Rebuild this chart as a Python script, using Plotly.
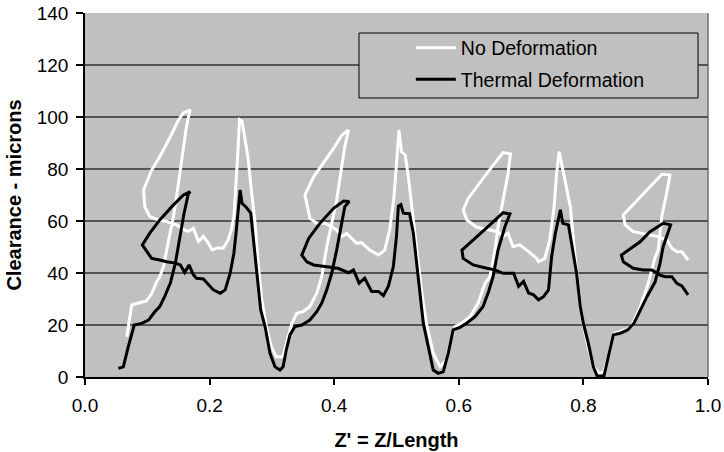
import plotly.graph_objects as go

# ---- data ----
no_def_x = [0.067, 0.075, 0.083, 0.098, 0.107, 0.115, 0.120, 0.126, 0.131, 0.137, 0.142, 0.147, 0.153, 0.158,
            0.162, 0.166, 0.169, 0.158, 0.150, 0.137, 0.120, 0.107, 0.094, 0.096, 0.104, 0.118, 0.131, 0.147,
            0.160, 0.166, 0.174, 0.182, 0.190, 0.198, 0.204, 0.212, 0.222, 0.230, 0.235, 0.239, 0.242, 0.245,
            0.248, 0.252, 0.257, 0.262, 0.267, 0.273, 0.278, 0.283, 0.291, 0.299, 0.307, 0.318, 0.326, 0.332,
            0.340, 0.350, 0.361, 0.372, 0.380, 0.388, 0.396, 0.404, 0.412, 0.417, 0.423, 0.412, 0.399, 0.383,
            0.367, 0.353, 0.356, 0.361, 0.372, 0.385, 0.396, 0.404, 0.412, 0.420, 0.428, 0.436, 0.444, 0.457,
            0.471, 0.481, 0.489, 0.496, 0.500, 0.504, 0.508, 0.514, 0.519, 0.524, 0.532, 0.540, 0.548, 0.559,
            0.570, 0.580, 0.586, 0.594, 0.604, 0.618, 0.631, 0.642, 0.650, 0.658, 0.663, 0.671, 0.679, 0.683,
            0.671, 0.645, 0.615, 0.607, 0.613, 0.629, 0.650, 0.663, 0.671, 0.679, 0.687, 0.698, 0.712, 0.725,
            0.728, 0.738, 0.746, 0.753, 0.757, 0.761, 0.766, 0.773, 0.779, 0.784, 0.790, 0.795, 0.800, 0.808,
            0.816, 0.825, 0.833, 0.840, 0.848, 0.860, 0.870, 0.877, 0.891, 0.904, 0.915, 0.920, 0.926, 0.933,
            0.939, 0.926, 0.896, 0.864, 0.867, 0.880, 0.907, 0.920, 0.934, 0.942, 0.950, 0.958, 0.968]
no_def_y = [15.5, 27.7, 28.3, 29.2, 32.0, 36.7, 38.6, 42.4, 48.8, 55.2, 61.7, 69.4, 79.6, 88.6,
            95.0, 100.0, 102.7, 101.6, 98.8, 92.4, 84.7, 79.6, 71.9, 65.5, 61.7, 60.4, 59.8, 58.5,
            56.5, 56.0, 57.2, 52.1, 54.1, 51.5, 48.9, 49.6, 49.6, 52.8, 56.7, 61.7, 72.0, 84.8,
            99.0, 98.4, 91.3, 83.6, 72.0, 59.2, 43.8, 31.0, 19.4, 11.7, 7.8, 7.8, 15.5, 20.6,
            24.5, 25.1, 27.1, 32.2, 38.6, 50.1, 59.1, 68.0, 80.9, 88.6, 95.0, 93.0, 87.9, 82.2,
            77.0, 70.0, 66.8, 61.0, 59.1, 59.1, 57.8, 56.5, 54.0, 55.2, 53.3, 51.4, 51.7, 48.8,
            46.9, 48.8, 56.5, 69.3, 82.1, 95.0, 86.6, 85.4, 77.0, 66.8, 51.4, 33.5, 20.6, 9.1,
            4.0, 6.6, 12.9, 19.4, 20.6, 23.2, 28.4, 36.0, 38.6, 48.8, 57.8, 68.0, 78.3, 85.8,
            86.3, 78.3, 68.7, 64.2, 60.4, 57.6, 56.5, 55.9, 54.0, 55.3, 50.1, 50.8, 48.2, 45.6,
            44.3, 45.6, 52.7, 65.5, 78.3, 86.7, 80.9, 73.2, 65.5, 52.7, 38.6, 27.1, 20.0, 11.0,
            4.0, 1.5, 2.0, 8.0, 16.5, 17.5, 18.5, 19.4, 26.9, 36.0, 46.0, 48.8, 62.0, 70.0,
            77.7, 78.0, 70.6, 62.3, 58.5, 55.9, 54.6, 54.0, 52.7, 49.5, 48.2, 48.2, 45.0]

thermal_x = [0.0535, 0.0615, 0.0695, 0.079, 0.091, 0.102, 0.112, 0.120, 0.128, 0.137, 0.145, 0.153, 0.159,
             0.166, 0.169, 0.158, 0.142, 0.120, 0.104, 0.092, 0.099, 0.107, 0.120, 0.131, 0.145, 0.153,
             0.160, 0.167, 0.174, 0.179, 0.190, 0.198, 0.206, 0.217, 0.225, 0.233, 0.239, 0.243, 0.246,
             0.249, 0.252, 0.258, 0.266, 0.270, 0.275, 0.282, 0.289, 0.297, 0.305, 0.313, 0.318, 0.323,
             0.329, 0.337, 0.348, 0.361, 0.372, 0.380, 0.388, 0.396, 0.404, 0.412, 0.417, 0.424, 0.415,
             0.399, 0.377, 0.359, 0.348, 0.356, 0.367, 0.388, 0.406, 0.423, 0.431, 0.440, 0.449, 0.460,
             0.471, 0.479, 0.487, 0.495, 0.500, 0.503, 0.507, 0.511, 0.521, 0.527, 0.535, 0.543, 0.551,
             0.559, 0.567, 0.575, 0.583, 0.591, 0.602, 0.612, 0.626, 0.639, 0.648, 0.655, 0.663, 0.674,
             0.682, 0.671, 0.650, 0.623, 0.605, 0.607, 0.623, 0.645, 0.658, 0.671, 0.688, 0.696, 0.704,
             0.712, 0.720, 0.728, 0.736, 0.744, 0.749, 0.755, 0.763, 0.767, 0.776, 0.781, 0.789, 0.795,
             0.800, 0.808, 0.816, 0.822, 0.833, 0.840, 0.848, 0.859, 0.871, 0.881, 0.891, 0.902, 0.915,
             0.923, 0.928, 0.936, 0.940, 0.928, 0.907, 0.891, 0.861, 0.864, 0.880, 0.896, 0.910, 0.923,
             0.931, 0.942, 0.950, 0.958, 0.968]
thermal_y = [3.3, 3.9, 11.7, 20.0, 20.6, 21.9, 25.1, 27.1, 31.0, 36.1, 43.8, 55.3, 63.0,
             70.6, 71.3, 70.0, 66.2, 60.4, 55.3, 50.8, 48.2, 45.6, 45.0, 44.3, 43.8, 43.1,
             40.2, 43.1, 39.3, 38.0, 37.7, 35.5, 33.5, 32.2, 33.5, 39.9, 47.6, 56.7, 65.5,
             71.9, 66.8, 65.5, 63.0, 54.0, 41.2, 25.8, 19.4, 9.1, 3.9, 2.7, 3.9, 10.3,
             16.2, 19.4, 20.0, 21.9, 25.1, 28.4, 33.5, 39.9, 48.9, 59.1, 65.5, 67.5, 67.7,
             64.9, 59.1, 53.3, 46.9, 44.3, 43.1, 42.4, 41.8, 40.1, 41.2, 36.1, 38.0, 32.9,
             32.9, 31.3, 34.9, 42.6, 54.2, 65.7, 66.3, 63.0, 62.8, 55.4, 38.7, 20.7, 11.7,
             2.7, 1.4, 2.0, 9.1, 18.1, 19.1, 20.6, 23.2, 27.1, 33.0, 38.6, 48.8, 57.8,
             62.7, 63.2, 58.5, 52.7, 48.8, 45.6, 43.1, 41.8, 41.2, 39.9, 39.9, 34.9, 36.8,
             32.3, 31.6, 29.7, 30.9, 33.5, 46.3, 55.3, 64.3, 59.1, 58.5, 51.4, 39.9, 27.1,
             20.6, 12.9, 3.9, 0.4, 0.4, 7.8, 16.2, 16.8, 18.1, 20.6, 25.8, 30.9, 36.5,
             43.7, 50.1, 55.3, 58.5, 59.1, 55.9, 52.0, 46.9, 44.3, 41.8, 41.2, 41.2, 39.2,
             38.6, 38.6, 36.0, 35.0, 31.6]

x_ticks = [0.0, 0.2, 0.4, 0.6, 0.8, 1.0]
x_tick_labels = ["0.0", "0.2", "0.4", "0.6", "0.8", "1.0"]
y_ticks = [0, 20, 40, 60, 80, 100, 120, 140]
series_names = ["No Deformation", "Thermal Deformation"]

FONT = "Liberation Sans, Arial, sans-serif"

fig = go.Figure()
fig.add_trace(go.Scatter(x=no_def_x, y=no_def_y, mode="lines", name=series_names[0],
                         legendgroup="a", line=dict(color="white", width=3)))
fig.add_trace(go.Scatter(x=thermal_x, y=thermal_y, mode="lines", name=series_names[1],
                         legendgroup="b", line=dict(color="black", width=3)))

# legend box (matches the reference's wide framed legend)
fig.add_shape(type="rect", xref="paper", yref="paper",
              x0=0.4398, x1=0.984, y0=0.7665, y1=0.945,
              line=dict(color="black", width=1), fillcolor="#c0c0c0", layer="above")
# right border of plot area
fig.add_shape(type="line", xref="paper", yref="paper", x0=1, x1=1, y0=0, y1=1,
              line=dict(color="#707070", width=1.5), layer="below")

fig.update_layout(
    width=724, height=452,
    margin=dict(l=85, r=16, t=13, b=75, autoexpand=False),
    paper_bgcolor="white", plot_bgcolor="#c0c0c0",
    font=dict(family=FONT, size=19, color="black"),
    showlegend=True,
    legend=dict(x=0.523, y=0.957, xanchor="left", yanchor="top",
                bgcolor="rgba(0,0,0,0)", borderwidth=0,
                font=dict(family=FONT, size=19.5, color="black"),
                tracegroupgap=3, itemwidth=40),
    xaxis=dict(range=[0, 1], tickvals=x_ticks, ticktext=x_tick_labels, automargin=False,
               showgrid=False, zeroline=False, showline=True, linecolor="black", linewidth=1.5,
               ticks="outside", ticklen=6, tickcolor="black", tickwidth=1.5,
               ticklabelstandoff=4, ticklabeloverflow="allow",
               title=dict(text="<b>Z' = Z/Length</b>", font=dict(size=20), standoff=18)),
    yaxis=dict(range=[0, 140], tickvals=y_ticks, automargin=False,
               showgrid=True, gridcolor="#555555", gridwidth=1.5,
               zeroline=False, showline=True, linecolor="black", linewidth=1.5,
               ticks="outside", ticklen=7, tickcolor="black", tickwidth=1.5,
               ticklabelstandoff=4, ticklabeloverflow="allow",
               title=dict(text="<b>Clearance - microns</b>", font=dict(size=20), standoff=10)),
)

# remove the browser's default 8px page margin so the figure sits at the window origin
fig.write_html("out.html", config={"displayModeBar": False},
               post_script="document.body.style.margin='0px';")
